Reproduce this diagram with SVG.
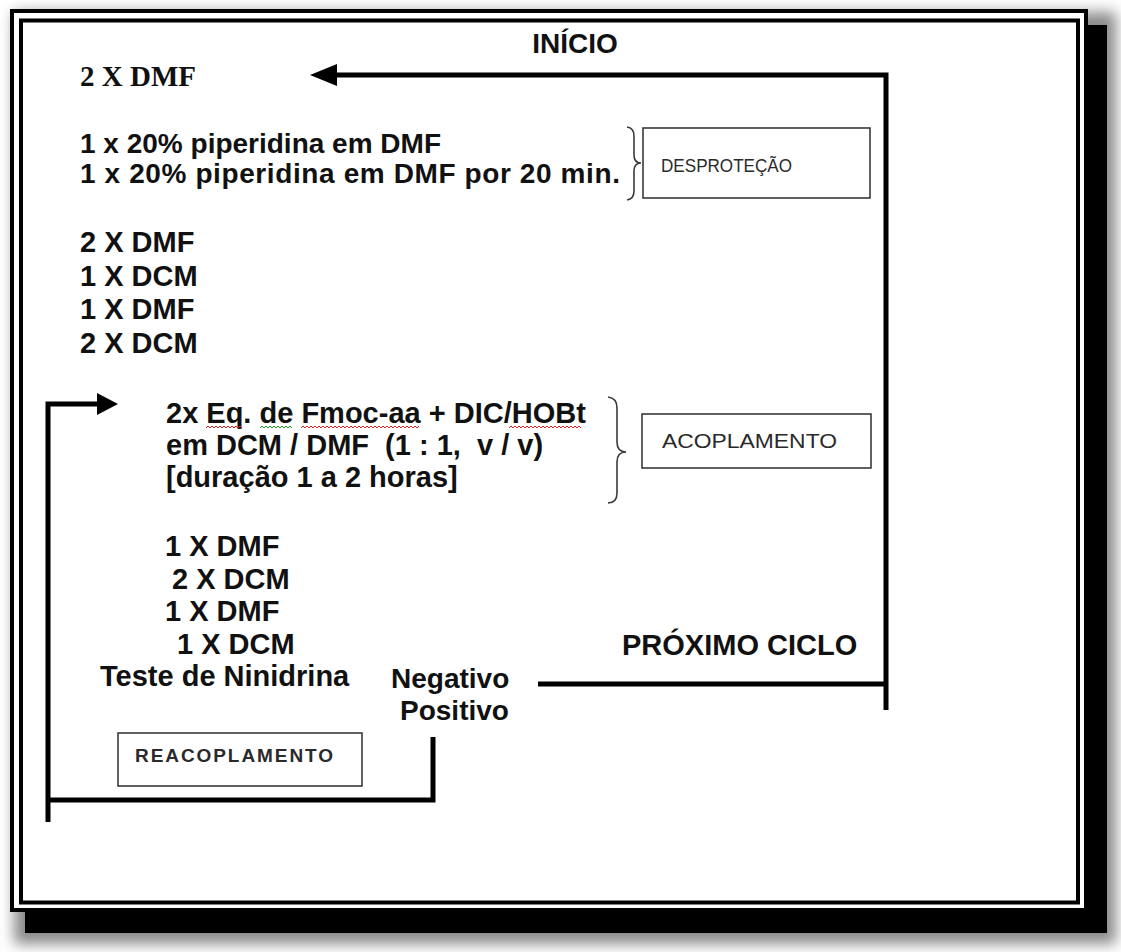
<svg xmlns="http://www.w3.org/2000/svg" width="1121" height="952" viewBox="0 0 1121 952">
  <defs>
    <style>
      .t { font-family: "Liberation Sans", Arial, sans-serif; font-weight: bold; font-size: 28px; fill: #111; }
      .t29 { font-size: 29px; }
      .tr { font-family: "Liberation Serif", "Times New Roman", serif; font-weight: bold; font-size: 29px; fill: #111; }
      .lbl { font-family: "Liberation Sans", Arial, sans-serif; fill: #2a2a2a; }
      .box { fill: #fff; stroke: #3a3a3a; stroke-width: 1.6; }
      .brace { fill: none; stroke: #3a3a3a; stroke-width: 1.6; }
      .conn { fill: none; stroke: #000; stroke-width: 5; stroke-linejoin: miter; stroke-linecap: butt; }
      .head { fill: #000; }
      .sqr { fill: none; stroke: #e02020; stroke-width: 1; }
      .sqg { fill: none; stroke: #20a020; stroke-width: 1; }
    </style>
    <filter id="blur" x="-5%" y="-5%" width="110%" height="110%">
      <feGaussianBlur stdDeviation="7"/>
    </filter>
  </defs>

  <rect x="0" y="0" width="1121" height="952" fill="#fff"/>

  <g id="frame">
    <rect x="14" y="12" width="1102" height="932" fill="#8a8a8a" filter="url(#blur)"/>
    <rect x="25" y="25" width="1082" height="908" fill="#000"/>
    <rect x="12" y="11" width="1074" height="899" fill="#fff" stroke="#000" stroke-width="4"/>
    <rect x="21" y="20.5" width="1057" height="882" fill="#fff" stroke="#000" stroke-width="4"/>
  </g>

  <g id="connectors">
    <path class="conn" d="M886 710 V75 H335"/>
    <polygon class="head" points="310,75 337,64 337,86"/>
    <path class="conn" d="M538 684 H888"/>
    <path class="conn" d="M433 737 V800 H48"/>
    <path class="conn" d="M48 822 V404 H99"/>
    <polygon class="head" points="118,404 97,393 97,415"/>
  </g>

  <g id="inicio">
    <text class="t" x="575" y="53" text-anchor="middle">INÍCIO</text>
  </g>

  <g id="wash-dmf-1">
    <text class="tr" x="80" y="86">2 X DMF</text>
  </g>

  <g id="deprotection-steps">
    <text class="t" x="80" y="153">1 x 20% piperidina em DMF</text>
    <text class="t" x="80" y="183" textLength="540" lengthAdjust="spacing">1 x 20% piperidina em DMF por 20 min.</text>
  </g>

  <g id="deprotection">
    <path class="brace" d="M627 127 Q634 128 634 136 V155 Q634 163 641 163 Q634 163 634 171 V191 Q634 199 627 200"/>
    <rect class="box" x="643" y="128" width="227" height="70"/>
    <text class="lbl" x="661" y="172" font-size="18" textLength="131" lengthAdjust="spacingAndGlyphs">DESPROTEÇÃO</text>
  </g>

  <g id="wash-2">
    <text class="t t29" x="80" y="252">2 X DMF</text>
    <text class="t t29" x="80" y="286">1 X DCM</text>
    <text class="t t29" x="80" y="319">1 X DMF</text>
    <text class="t t29" x="80" y="353">2 X DCM</text>
  </g>

  <g id="coupling-steps">
    <text class="t t29" x="166" y="423">2x Eq. de Fmoc-aa + DIC/HOBt</text>
    <text class="t t29" x="166" y="455" xml:space="preserve">em DCM / DMF  (1 : 1,  v / v)</text>
    <text class="t t29" x="166" y="487">[duração 1 a 2 horas]</text>
    <polyline class="sqr" points="206,428 208,426 210,428 212,426 214,428 216,426 218,428 220,426 222,428 224,426 226,428 228,426 230,428 232,426 234,428 236,426 238,428 240,426 242,428"/>
    <polyline class="sqg" points="260,428 262,426 264,428 266,426 268,428 270,426 272,428 274,426 276,428 278,426 280,428 282,426 284,428 286,426 288,428 290,426 292,428"/>
    <polyline class="sqr" points="301,428 303,426 305,428 307,426 309,428 311,426 313,428 315,426 317,428 319,426 321,428 323,426 325,428 327,426 329,428 331,426 333,428 335,426 337,428 339,426 341,428 343,426 345,428 347,426 349,428 351,426 353,428 355,426 357,428 359,426 361,428 363,426 365,428 367,426 369,428 371,426 373,428 375,426 377,428 379,426 381,428 383,426 385,428 387,426 389,428 391,426 393,428 395,426 397,428 399,426 401,428 403,426 405,428 407,426 409,428 411,426 413,428 415,426 417,428 419,426"/>
    <polyline class="sqr" points="509,428 511,426 513,428 515,426 517,428 519,426 521,428 523,426 525,428 527,426 529,428 531,426 533,428 535,426 537,428 539,426 541,428 543,426 545,428 547,426 549,428 551,426 553,428 555,426 557,428 559,426 561,428 563,426 565,428 567,426 569,428 571,426 573,428 575,426 577,428 579,426 581,428"/>
  </g>

  <g id="coupling">
    <path class="brace" d="M608 397 Q617 398 617 408 V442 Q617 452 626 452 Q617 452 617 462 V493 Q617 503 608 503"/>
    <rect class="box" x="642" y="414" width="229" height="54"/>
    <text class="lbl" x="662" y="448" font-size="20" textLength="175" lengthAdjust="spacingAndGlyphs">ACOPLAMENTO</text>
  </g>

  <g id="wash-3">
    <text class="t t29" x="165" y="556">1 X DMF</text>
    <text class="t t29" x="172" y="589">2 X DCM</text>
    <text class="t t29" x="165" y="621">1 X DMF</text>
    <text class="t t29" x="177" y="654">1 X DCM</text>
  </g>

  <g id="ninhydrin-test">
    <text class="t t29" x="100" y="686">Teste de Ninidrina</text>
  </g>

  <g id="result">
    <text class="t" x="391" y="688">Negativo</text>
    <text class="t" x="400" y="720">Positivo</text>
  </g>

  <g id="next-cycle">
    <text class="t t29" x="622" y="655">PRÓXIMO CICLO</text>
  </g>

  <g id="recoupling">
    <rect class="box" x="118" y="733" width="244" height="53"/>
    <text class="lbl" x="135" y="762" font-size="19" font-weight="bold" textLength="198" lengthAdjust="spacing">REACOPLAMENTO</text>
  </g>
</svg>
